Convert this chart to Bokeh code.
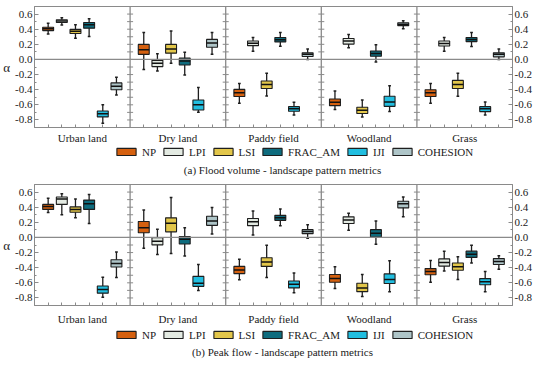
from bokeh.plotting import figure
from bokeh.models import (FixedTicker, PrintfTickFormatter, LinearAxis, Span, Legend,
                          LegendItem, Label, ColumnDataSource)
from bokeh.layouts import column
from bokeh.embed import file_html
from bokeh.resources import INLINE

groups = ["Urban land", "Dry land", "Paddy field", "Woodland", "Grass"]
metrics = ["NP", "LPI", "LSI", "FRAC_AM", "IJI", "COHESION"]
colors = ["#D5600F", "#E3EAE2", "#E2C64A", "#0E6C7E", "#21BEE0", "#AEC5C8"]

# stats per group: (lower whisker, q1, median, q3, upper whisker)
flood_np = [(0.335, 0.381, 0.405, 0.426, 0.48), (-0.132, 0.067, 0.129, 0.199, 0.356),
            (-0.578, -0.491, -0.442, -0.396, -0.318), (-0.661, -0.611, -0.566, -0.524, -0.417),
            (-0.578, -0.49, -0.44, -0.40, -0.318)]
flood_lpi = [(0.455, 0.488, 0.509, 0.525, 0.55), (-0.152, -0.095, -0.049, -0.012, 0.075),
             (0.108, 0.182, 0.215, 0.244, 0.29), (0.153, 0.203, 0.244, 0.277, 0.331),
             (0.108, 0.178, 0.211, 0.244, 0.29)]
flood_lsi = [(0.281, 0.343, 0.372, 0.397, 0.459), (-0.049, 0.083, 0.137, 0.199, 0.376),
             (-0.483, -0.384, -0.33, -0.285, -0.181), (-0.76, -0.714, -0.673, -0.632, -0.537),
             (-0.487, -0.384, -0.33, -0.277, -0.181)]
flood_frac = [(0.302, 0.414, 0.459, 0.488, 0.538), (-0.206, -0.074, -0.02, 0.017, 0.095),
              (0.174, 0.232, 0.261, 0.29, 0.356), (-0.033, 0.042, 0.079, 0.112, 0.195),
              (0.17, 0.236, 0.265, 0.29, 0.356)]
flood_iji = [(-0.843, -0.76, -0.718, -0.681, -0.599), (-0.698, -0.669, -0.599, -0.537, -0.371),
             (-0.735, -0.686, -0.652, -0.624, -0.566), (-0.69, -0.62, -0.562, -0.487, -0.347),
             (-0.735, -0.69, -0.652, -0.624, -0.562)]
flood_coh = [(-0.47, -0.40, -0.355, -0.31, -0.235), (0.067, 0.162, 0.219, 0.265, 0.356),
             (0.0, 0.038, 0.067, 0.087, 0.137), (0.405, 0.447, 0.463, 0.484, 0.513),
             (0.0, 0.034, 0.067, 0.087, 0.137)]

peak_np = [(0.33, 0.371, 0.408, 0.437, 0.519), (-0.144, 0.062, 0.128, 0.21, 0.362),
           (-0.56, -0.478, -0.432, -0.383, -0.288), (-0.675, -0.593, -0.544, -0.49, -0.387),
           (-0.593, -0.494, -0.449, -0.412, -0.305)]
peak_lpi = [(0.301, 0.437, 0.507, 0.535, 0.577), (-0.227, -0.099, -0.049, -0.004, 0.107),
            (0.033, 0.156, 0.206, 0.251, 0.35), (0.095, 0.185, 0.231, 0.272, 0.321),
            (-0.445, -0.379, -0.33, -0.284, -0.181)]
peak_lsi = [(0.26, 0.334, 0.371, 0.404, 0.507), (-0.214, 0.074, 0.189, 0.259, 0.527),
            (-0.531, -0.383, -0.325, -0.268, -0.103), (-0.782, -0.717, -0.667, -0.605, -0.49),
            (-0.556, -0.433, -0.387, -0.338, -0.255)]
peak_frac = [(0.185, 0.371, 0.445, 0.494, 0.568), (-0.247, -0.087, -0.025, 0.012, 0.128),
             (0.156, 0.226, 0.259, 0.292, 0.375), (-0.09, 0.004, 0.054, 0.103, 0.218),
             (-0.338, -0.264, -0.222, -0.181, -0.103)]
peak_iji = [(-0.79, -0.737, -0.688, -0.642, -0.527), (-0.70, -0.647, -0.605, -0.515, -0.358),
            (-0.733, -0.667, -0.618, -0.577, -0.47), (-0.717, -0.61, -0.556, -0.482, -0.309),
            (-0.717, -0.626, -0.585, -0.544, -0.449)]
peak_coh = [(-0.531, -0.391, -0.346, -0.296, -0.194), (0.045, 0.16, 0.218, 0.28, 0.395),
            (-0.012, 0.05, 0.078, 0.103, 0.169), (0.272, 0.391, 0.445, 0.478, 0.535),
            (-0.42, -0.358, -0.317, -0.28, -0.243)]

y_ticks = [-0.8, -0.6, -0.4, -0.2, 0.0, 0.2, 0.4, 0.6]
y_minor = [-0.9, -0.8, -0.7, -0.6, -0.5, -0.4, -0.3, -0.2, -0.1, 0.0,
           0.1, 0.2, 0.3, 0.4, 0.5, 0.6, 0.7]

FONT = "Liberation Serif"
FS = "11px"
TXT = "#1a1a1a"
GRAY = "#8a8a8a"
DARK = "#1e1e1e"
SLOT = len(metrics) + 1
W = 534
FRAME_H = 123


def style_y(ax):
    ax.ticker = FixedTicker(ticks=y_ticks, minor_ticks=y_minor)
    ax.formatter = PrintfTickFormatter(format="%.1f")
    ax.major_tick_in = 4
    ax.major_tick_out = 0
    ax.minor_tick_in = 2
    ax.minor_tick_out = 0
    ax.axis_line_color = GRAY
    ax.major_tick_line_color = GRAY
    ax.minor_tick_line_color = GRAY
    ax.major_label_text_font = FONT
    ax.major_label_text_font_size = FS
    ax.major_label_text_color = TXT
    ax.major_label_standoff = 2


def panel(stats, top, bottom, standoff):
    p = figure(width=W, height=top + FRAME_H + bottom, x_range=(0, SLOT * len(groups)),
               y_range=(-0.9, 0.7), output_backend="svg", toolbar_location=None,
               min_border_top=top, min_border_left=2, min_border_right=2,
               min_border_bottom=bottom,
               background_fill_color="white", border_fill_color="white")
    p.xgrid.visible = False
    p.ygrid.visible = False
    p.outline_line_color = GRAY

    style_y(p.yaxis[0])
    p.yaxis[0].axis_label = "α"
    p.yaxis[0].axis_label_orientation = "horizontal"
    p.yaxis[0].axis_label_standoff = 2
    p.yaxis[0].axis_label_text_font = FONT
    p.yaxis[0].axis_label_text_font_style = "normal"
    p.yaxis[0].axis_label_text_font_size = "13px"
    p.yaxis[0].axis_label_text_color = TXT
    right = LinearAxis()
    style_y(right)
    p.add_layout(right, "right")

    centers = [g * SLOT + SLOT / 2 for g in range(len(groups))]
    positions = [g * SLOT + k + 1 for g in range(len(groups)) for k in range(len(metrics))]
    xa = p.xaxis[0]
    xa.ticker = FixedTicker(ticks=centers, minor_ticks=positions)
    xa.major_label_overrides = {c: n for c, n in zip(centers, groups)}
    xa.major_tick_in = 0
    xa.major_tick_out = 0
    xa.minor_tick_in = 3
    xa.minor_tick_out = 0
    xa.axis_line_color = GRAY
    xa.minor_tick_line_color = GRAY
    xa.major_label_text_font = FONT
    xa.major_label_text_font_size = FS
    xa.major_label_text_color = TXT
    xa.major_label_standoff = standoff

    dividers = [g * SLOT for g in range(1, len(groups))]
    for d in dividers:
        p.add_layout(Span(location=d, dimension="height", line_color=GRAY, line_width=1.3))
    p.add_layout(Span(location=0, dimension="width", line_color=GRAY, line_width=1.2))
    dx0, dx1, dy = [], [], []
    for d in dividers:
        for yv in y_minor:
            dx0.append(d - 0.22)
            dx1.append(d + 0.22)
            dy.append(yv)
    p.segment(dx0, dy, dx1, dy, line_color=GRAY, line_width=1)

    sources = []
    for i, (m, c, st) in enumerate(zip(metrics, colors, stats)):
        x = [g * SLOT + i + 1 for g in range(len(groups))]
        src = ColumnDataSource(dict(
            x=x, lo=[s[0] for s in st], q1=[s[1] for s in st], med=[s[2] for s in st],
            q3=[s[3] for s in st], hi=[s[4] for s in st],
            xl=[v - 0.4 for v in x], xr=[v + 0.4 for v in x],
            cl=[v - 0.1 for v in x], cr=[v + 0.1 for v in x]))
        p.segment("x", "lo", "x", "hi", source=src, line_color=DARK, line_width=1.3)
        p.segment("cl", "lo", "cr", "lo", source=src, line_color=DARK, line_width=1.5)
        p.segment("cl", "hi", "cr", "hi", source=src, line_color=DARK, line_width=1.5)
        p.vbar(x="x", width=0.8, top="q3", bottom="q1", source=src,
               fill_color=c, line_color=DARK, line_width=1.1)
        p.segment("xl", "med", "xr", "med", source=src, line_color="#111111", line_width=1.5)
        sources.append(src)
    return p, sources


def legend_fig(caption, sources, h, leg_bottom, cap_y):
    # legend-only strip: its box renderers share the panel's data but stay hidden
    f = figure(width=W, height=h, x_range=(100, 101), y_range=(-0.9, 0.7),
               output_backend="svg", toolbar_location=None,
               x_axis_location=None, y_axis_location=None,
               min_border=0, outline_line_color=None,
               background_fill_color="white", border_fill_color="white")
    f.xgrid.visible = False
    f.ygrid.visible = False
    items = []
    for m, c, src in zip(metrics, colors, sources):
        r = f.vbar(x="x", top="q3", bottom="q1", width=0.8, source=src, fill_color=c,
                   line_color=DARK, line_width=1.1, visible=False)
        items.append(LegendItem(label=m, renderers=[r]))
    legend = Legend(items=items, orientation="horizontal", location=(80, leg_bottom),
                    glyph_width=24, glyph_height=9, label_standoff=4, spacing=5,
                    padding=0, margin=0, border_line_color=None, label_width=0,
                    label_text_font=FONT, label_text_font_size=FS,
                    label_text_color=TXT, label_height=9, label_text_baseline="middle",
                    background_fill_alpha=0, inactive_fill_alpha=0)
    f.add_layout(legend, "center")
    f.add_layout(Label(x=248, y=cap_y, x_units="screen", y_units="screen", text=caption,
                       text_align="center", text_baseline="middle", text_font=FONT,
                       text_font_size=FS, text_color=TXT))
    return f


pa, sa = panel([flood_np, flood_lpi, flood_lsi, flood_frac, flood_iji, flood_coh], 6, 17, 4)
la = legend_fig("(a) Flood volume - landscape pattern metrics", sa, 36, 24.5, 12.6)
pb, sb = panel([peak_np, peak_lpi, peak_lsi, peak_frac, peak_iji, peak_coh], 2, 20, 7)
lb = legend_fig("(b) Peak flow - landscape pattern metrics", sb, 35, 21.5, 10.6)
layout = column(pa, la, pb, lb, spacing=0)

open("out.html", "w").write(file_html(layout, INLINE))
